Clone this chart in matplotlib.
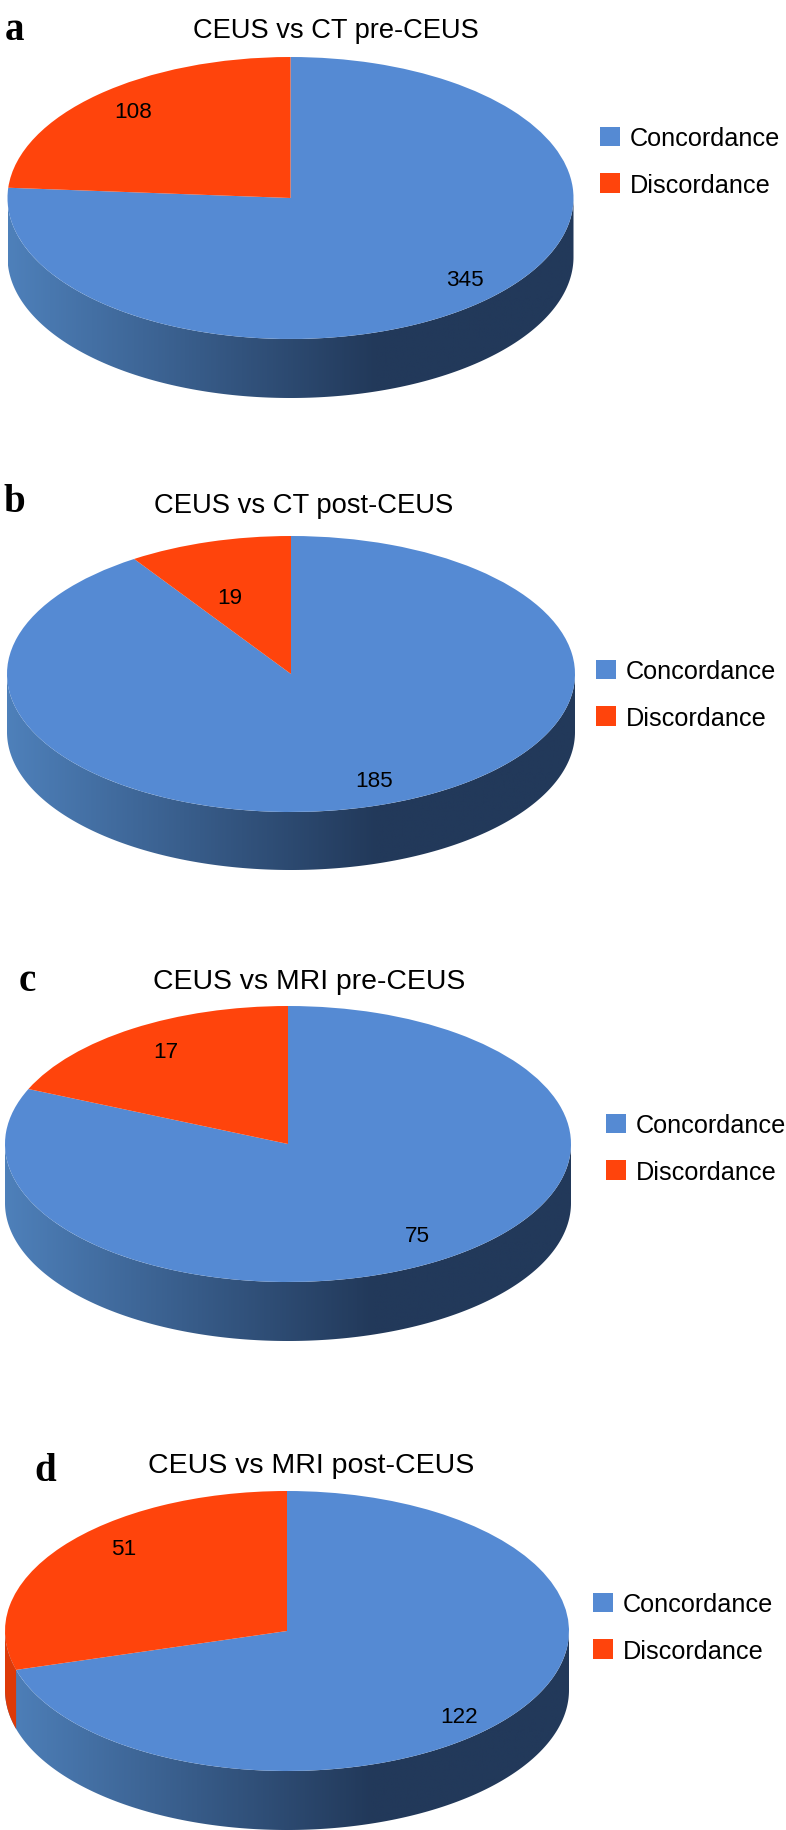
import numpy as np
import matplotlib
matplotlib.use("Agg")
import matplotlib.pyplot as plt
from matplotlib.colors import LinearSegmentedColormap
from matplotlib.patches import Polygon

plt.rcParams['font.family'] = ['Liberation Sans', 'DejaVu Sans']

W, H = 786, 1831
series_labels = ['Concordance', 'Discordance']
titles = ['CEUS vs CT pre-CEUS', 'CEUS vs CT post-CEUS', 'CEUS vs MRI pre-CEUS', 'CEUS vs MRI post-CEUS']
panel_letters = ['a', 'b', 'c', 'd']
concordance = [345, 185, 75, 122]
discordance = [108, 19, 17, 51]

# layout, in pixels of the reference
centres = [(290.5, 199), (291, 675), (288, 1145), (287, 1632)]
radii = [(283, 141), (284, 138), (283, 138), (282, 140)]
depths = [59, 58, 59, 59]
title_xy = [(336, 31), (304, 506), (309, 982), (311, 1466)]
title_size = [19.6, 19.7, 20.4, 20.5]
letter_xy = [(14, 30), (14, 503), (27, 982), (45, 1472)]
conc_label_xy = [(465, 280), (374, 782), (417, 1236), (459, 1718)]
disc_label_xy = [(133, 113), (230, 598), (166, 1052), (124, 1550)]
legend_xy = [(600, 162.5), (596, 695.5), (606, 1149.5), (593, 1628.5)]

BLUE, RED, RED_SIDE = '#558AD3', '#FF440C', '#DD3A08'
side_cmap = LinearSegmentedColormap.from_list(
    'side', [(0, '#4E80BA'), (0.65, '#22395A'), (1, '#22395A')])

fig = plt.figure(figsize=(W / 100, H / 100), dpi=100, facecolor='white')

def fx(x): return x / W
def fy(y): return 1 - y / H

for i in range(4):
    cx, cy = centres[i]
    rx, ry = radii[i]
    dp = depths[i]
    ax = fig.add_axes([fx(cx - rx), fy(cy + ry + dp), 2 * rx / W, (2 * ry + dp) / H])
    vals = [concordance[i], discordance[i]]
    wedges, _ = ax.pie(vals, colors=[BLUE, RED], startangle=90, counterclock=False,
                       radius=1, wedgeprops=dict(linewidth=0))
    wedges[0].set_zorder(5)
    wedges[1].set_zorder(5)
    d = dp / ry

    # gradient side wall of the disc
    t = np.linspace(np.pi, 2 * np.pi, 300)
    xs = np.cos(t)
    wall = np.column_stack([np.r_[xs, xs[::-1]], np.r_[np.sin(t), np.sin(t[::-1]) - d]])
    grad = np.linspace(0, 1, 512)[None, :]
    im = ax.imshow(grad, cmap=side_cmap, extent=(-1, 1, -1 - d, 0), aspect='auto', zorder=1)
    clip = Polygon(wall, closed=True, transform=ax.transData, facecolor='none', edgecolor='none')
    ax.add_patch(clip)
    im.set_clip_path(clip)

    # discordance wedge reaching the front of the disc shows a red wall
    end = np.pi / 2 + 2 * np.pi * discordance[i] / (concordance[i] + discordance[i])
    if end > np.pi:
        t2 = np.linspace(np.pi, end, 40)
        x2 = np.cos(t2)
        ax.add_patch(Polygon(np.column_stack([np.r_[x2, x2[::-1]],
                                              np.r_[np.sin(t2), np.sin(t2[::-1]) - d]]),
                             closed=True, facecolor=RED_SIDE, edgecolor='none', zorder=2))

    ax.set_xlim(-1, 1)
    ax.set_ylim(-1 - d, 1)
    ax.set_aspect('auto')
    ax.set_axis_off()

    fig.text(fx(title_xy[i][0]), fy(title_xy[i][1]), titles[i], fontsize=title_size[i],
             ha='center', va='center', color='black')
    fig.text(fx(letter_xy[i][0]), fy(letter_xy[i][1]), panel_letters[i], fontsize=28,
             family=['Liberation Serif'], weight='bold', ha='center', va='center')
    fig.text(fx(conc_label_xy[i][0]), fy(conc_label_xy[i][1]), str(concordance[i]),
             fontsize=16.2, ha='center', va='center', color='black', zorder=10)
    fig.text(fx(disc_label_xy[i][0]), fy(disc_label_xy[i][1]), str(discordance[i]),
             fontsize=16.2, ha='center', va='center', color='black', zorder=10)

    ax.legend(wedges, series_labels, loc='center left',
              bbox_to_anchor=(fx(legend_xy[i][0]), fy(legend_xy[i][1])),
              bbox_transform=fig.transFigure, frameon=False, fontsize=18.2,
              borderpad=0, borderaxespad=0, handlelength=0.81, handleheight=0.81,
              handletextpad=0.36, labelspacing=0.88)

fig.savefig('out.png', dpi=100, facecolor='white')
